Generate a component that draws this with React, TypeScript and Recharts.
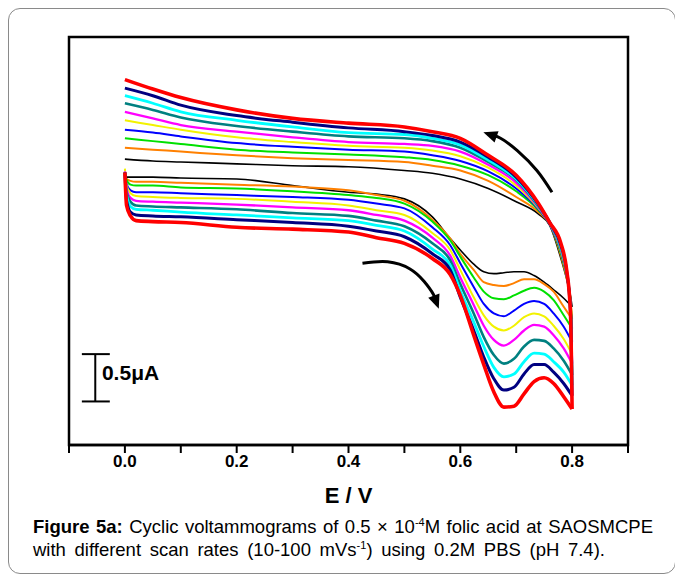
import React from "react";
import {
  LineChart,
  Line,
  XAxis,
  YAxis,
  ReferenceArea,
  ReferenceLine,
  ReferenceDot,
} from "recharts";

// potential grids (V)
const forwardE = [0, 0.003, 0.01, 0.02, 0.05, 0.1, 0.2, 0.3, 0.4, 0.45, 0.5, 0.55, 0.582, 0.6, 0.624, 0.642, 0.66, 0.678, 0.696, 0.714, 0.732, 0.75, 0.767, 0.785, 0.8];
const reverseE = [0.797, 0.79, 0.78, 0.76, 0.74, 0.7, 0.65, 0.6, 0.55, 0.5, 0.4, 0.3, 0.2, 0.1, 0.05, 0];

// forward scan currents (uA), 0 -> 0.8 V
const fwd10 = [0.53, 0.52, 0.52, 0.52, 0.52, 0.51, 0.5, 0.43, 0.36, 0.34, 0.29, 0.1, -0.13, -0.25, -0.4, -0.48, -0.5, -0.49, -0.48, -0.48, -0.52, -0.59, -0.67, -0.76, -0.85];
const fwd20 = [0.55, 0.5, 0.48, 0.47, 0.47, 0.46, 0.44, 0.42, 0.38, 0.33, 0.27, 0.07, -0.13, -0.29, -0.46, -0.59, -0.62, -0.63, -0.6, -0.56, -0.56, -0.61, -0.69, -0.85, -0.98];
const fwd30 = [0.56, 0.49, 0.44, 0.43, 0.43, 0.41, 0.4, 0.37, 0.33, 0.3, 0.24, 0.05, -0.15, -0.32, -0.54, -0.69, -0.76, -0.77, -0.73, -0.68, -0.65, -0.69, -0.78, -0.94, -1.08];
const fwd40 = [0.56, 0.45, 0.38, 0.36, 0.36, 0.35, 0.33, 0.31, 0.28, 0.24, 0.19, -0.01, -0.2, -0.39, -0.64, -0.82, -0.92, -0.95, -0.89, -0.82, -0.79, -0.82, -0.92, -1.06, -1.22];
const fwd50 = [0.61, 0.43, 0.35, 0.32, 0.31, 0.3, 0.29, 0.26, 0.22, 0.17, 0.12, -0.07, -0.25, -0.46, -0.75, -0.94, -1.06, -1.1, -1.05, -0.96, -0.92, -0.95, -1.05, -1.19, -1.35];
const fwd60 = [0.58, 0.4, 0.3, 0.27, 0.26, 0.25, 0.23, 0.2, 0.17, 0.12, 0.06, -0.12, -0.31, -0.54, -0.83, -1.05, -1.2, -1.26, -1.2, -1.1, -1.04, -1.06, -1.15, -1.29, -1.45];
const fwd70 = [0.57, 0.36, 0.26, 0.22, 0.21, 0.2, 0.18, 0.14, 0.11, 0.06, 0.0, -0.18, -0.36, -0.61, -0.92, -1.17, -1.36, -1.45, -1.4, -1.27, -1.2, -1.21, -1.29, -1.42, -1.57];
const fwd80 = [0.57, 0.33, 0.21, 0.18, 0.17, 0.15, 0.12, 0.09, 0.06, 0.01, -0.05, -0.24, -0.41, -0.68, -1.01, -1.27, -1.49, -1.59, -1.56, -1.43, -1.34, -1.35, -1.43, -1.54, -1.68];
const fwd90 = [0.57, 0.27, 0.15, 0.12, 0.11, 0.1, 0.07, 0.04, 0.0, -0.05, -0.11, -0.29, -0.46, -0.75, -1.1, -1.38, -1.61, -1.73, -1.7, -1.56, -1.46, -1.46, -1.54, -1.66, -1.79];
const fwd100 = [0.57, 0.22, 0.11, 0.06, 0.05, 0.04, -0.01, -0.03, -0.06, -0.12, -0.18, -0.34, -0.51, -0.73, -1.15, -1.46, -1.75, -1.91, -1.9, -1.77, -1.64, -1.6, -1.66, -1.8, -1.93];

// reverse scan currents (uA), 0.8 -> 0 V
const rev10 = [-0.73, -0.55, -0.34, 0.01, 0.13, 0.26, 0.4, 0.5, 0.56, 0.59, 0.63, 0.64, 0.66, 0.68, 0.69, 0.71];
const rev20 = [-0.76, -0.54, -0.31, 0.02, 0.15, 0.31, 0.48, 0.59, 0.64, 0.68, 0.7, 0.72, 0.75, 0.79, 0.81, 0.83];
const rev30 = [-0.78, -0.52, -0.29, 0.02, 0.17, 0.37, 0.54, 0.64, 0.7, 0.73, 0.76, 0.78, 0.81, 0.87, 0.9, 0.93];
const rev40 = [-0.8, -0.51, -0.27, 0.02, 0.18, 0.4, 0.58, 0.69, 0.75, 0.79, 0.81, 0.84, 0.88, 0.95, 0.99, 1.02];
const rev50 = [-0.82, -0.5, -0.26, 0.03, 0.19, 0.43, 0.62, 0.74, 0.8, 0.83, 0.85, 0.89, 0.94, 1.02, 1.07, 1.12];
const rev60 = [-0.83, -0.49, -0.24, 0.03, 0.2, 0.46, 0.65, 0.79, 0.85, 0.87, 0.89, 0.94, 1.0, 1.07, 1.14, 1.21];
const rev70 = [-0.85, -0.48, -0.23, 0.04, 0.21, 0.49, 0.68, 0.83, 0.9, 0.93, 0.95, 1.0, 1.06, 1.15, 1.23, 1.3];
const rev80 = [-0.87, -0.48, -0.22, 0.04, 0.22, 0.5, 0.7, 0.86, 0.93, 0.97, 0.99, 1.05, 1.12, 1.21, 1.3, 1.38];
const rev90 = [-0.89, -0.46, -0.2, 0.04, 0.23, 0.52, 0.73, 0.89, 0.96, 1.0, 1.04, 1.1, 1.17, 1.28, 1.38, 1.46];
const rev100 = [-0.9, -0.45, -0.18, 0.04, 0.24, 0.54, 0.75, 0.93, 1.0, 1.05, 1.09, 1.14, 1.23, 1.36, 1.45, 1.55];

const scanRates = [10, 20, 30, 40, 50, 60, 70, 80, 90, 100]; // mV/s
const forwardScans = [fwd10, fwd20, fwd30, fwd40, fwd50, fwd60, fwd70, fwd80, fwd90, fwd100];
const reverseScans = [rev10, rev20, rev30, rev40, rev50, rev60, rev70, rev80, rev90, rev100];
const colors = ["#000000", "#ff8000", "#00e000", "#0000ff", "#f2f200", "#ff00ff", "#008080", "#00ffff", "#000080", "#ff0000"];
const widths = [1.6, 2, 2, 2, 2, 2.3, 2.6, 2.8, 3, 3.6];

// direction arrows
const arrowFwdE = [0.425, 0.47, 0.51, 0.535, 0.552, 0.559];
const arrowFwdI = [-0.39, -0.375, -0.45, -0.58, -0.72, -0.83];
const arrowRevE = [0.764, 0.737, 0.702, 0.672, 0.648];
const arrowRevI = [0.36, 0.59, 0.8, 0.93, 0.98];

const xTicks = [-0.1, 0, 0.1, 0.2, 0.3, 0.4, 0.5, 0.6, 0.7, 0.8, 0.9];

const FONT = '"Liberation Sans", Arial, Helvetica, sans-serif';

const toPoints = (es: number[], is: number[]) => es.map((e, k) => ({ e, i: is[k] }));

function arrowHead(n: number, fallback: number) {
  return (props: any) => {
    const { cx, cy, index, points } = props;
    if (index !== n - 1) return <g key={`ah-${index}`} />;
    let ang = fallback;
    const prev = points && points[index - 1];
    if (prev) ang = Math.atan2(cy - prev.y, cx - prev.x);
    const c = Math.cos(ang);
    const s = Math.sin(ang);
    const tx = cx + c * 4;
    const ty = cy + s * 4;
    const bx = tx - c * 14;
    const by = ty - s * 14;
    const px = -s * 6;
    const py = c * 6;
    return (
      <polygon
        key={`ah-${index}`}
        points={`${tx},${ty} ${bx + px},${by + py} ${bx - px},${by - py}`}
        fill="#000"
      />
    );
  };
}

export default function App() {
  return (
    <div
      style={{
        position: "relative",
        width: 668,
        height: 566,
        border: "1px solid #8a8a8a",
        borderRadius: 12,
        boxSizing: "border-box",
        background: "#fff",
        fontFamily: FONT,
      }}
    >
      <div style={{ position: "absolute", left: 0, top: 0 }}>
        <LineChart width={666} height={520} margin={{ top: 28, right: 47, bottom: 24, left: 60 }}>
          <XAxis
            dataKey="e"
            type="number"
            domain={[-0.1, 0.9]}
            allowDataOverflow
            ticks={xTicks}
            interval={0}
            tickSize={8}
            tickLine={{ stroke: "#000", strokeWidth: 2 }}
            axisLine={{ stroke: "#000", strokeWidth: 2.5 }}
            tick={{ fill: "#000", fontSize: 17, fontWeight: "bold", fontFamily: FONT }}
            tickFormatter={(v: number) => {
              const k = Math.round(v * 10);
              return k >= 0 && k <= 8 && k % 2 === 0 ? v.toFixed(1) : "";
            }}
            height={60}
            label={{
              value: "E / V",
              position: "insideBottom",
              offset: 2,
              fill: "#000",
              fontSize: 22,
              fontWeight: "bold",
              fontFamily: FONT,
            }}
          />
          <YAxis type="number" domain={[-2.31, 2.0]} allowDataOverflow hide />
          <ReferenceArea
            x1={-0.1}
            x2={0.9}
            y1={-2.31}
            y2={2.0}
            fill="none"
            stroke="#000"
            strokeWidth={2.5}
          />
          {scanRates.map((rate, k) => (
            <Line
              key={`f${rate}`}
              data={toPoints(forwardE, forwardScans[k])}
              dataKey="i"
              type="monotone"
              stroke={colors[k]}
              strokeWidth={widths[k]}
              dot={false}
              activeDot={false}
              isAnimationActive={false}
            />
          ))}
          {scanRates.map((rate, k) => (
            <Line
              key={`r${rate}`}
              data={[
                { e: 0.8, i: forwardScans[k][forwardScans[k].length - 1] },
                ...toPoints(reverseE, reverseScans[k]),
              ]}
              dataKey="i"
              type="monotone"
              stroke={colors[k]}
              strokeWidth={widths[k]}
              dot={false}
              activeDot={false}
              isAnimationActive={false}
            />
          ))}
          <Line
            data={toPoints(arrowFwdE, arrowFwdI)}
            dataKey="i"
            type="natural"
            stroke="#000"
            strokeWidth={3}
            dot={arrowHead(arrowFwdE.length, 1.25)}
            activeDot={false}
            isAnimationActive={false}
          />
          <Line
            data={toPoints(arrowRevE, arrowRevI)}
            dataKey="i"
            type="natural"
            stroke="#000"
            strokeWidth={3}
            dot={arrowHead(arrowRevE.length, -2.9)}
            activeDot={false}
            isAnimationActive={false}
          />
          {/* 0.5 uA scale bar */}
          <ReferenceLine
            segment={[{ x: -0.053, y: -1.35 }, { x: -0.053, y: -1.85 }]}
            stroke="#000"
            strokeWidth={2}
          />
          <ReferenceLine
            segment={[{ x: -0.077, y: -1.35 }, { x: -0.027, y: -1.35 }]}
            stroke="#000"
            strokeWidth={2}
          />
          <ReferenceLine
            segment={[{ x: -0.077, y: -1.85 }, { x: -0.027, y: -1.85 }]}
            stroke="#000"
            strokeWidth={2}
          />
          <ReferenceDot
            x={-0.05}
            y={-1.54}
            r={0}
            fill="none"
            stroke="none"
            label={{
              value: "0.5μA",
              position: "right",
              offset: 5,
              fill: "#000",
              fontSize: 21,
              fontWeight: "bold",
              fontFamily: FONT,
            }}
          />
        </LineChart>
      </div>
      <div
        style={{
          position: "absolute",
          left: 24,
          top: 506,
          width: 620,
          fontSize: 18.5,
          lineHeight: "23px",
          color: "#000",
        }}
      >
        <div style={{ textAlign: "justify", textAlignLast: "justify", whiteSpace: "normal" }}>
          <b>Figure 5a:</b> Cyclic voltammograms of 0.5 × 10<sup style={{ fontSize: 11, lineHeight: 0 }}>-4</sup>M folic acid at SAOSMCPE
        </div>
        <div style={{ wordSpacing: 3.5 }}>
          with different scan rates (10-100 mVs<sup style={{ fontSize: 11, lineHeight: 0 }}>-1</sup>) using 0.2M PBS (pH 7.4).
        </div>
      </div>
    </div>
  );
}
